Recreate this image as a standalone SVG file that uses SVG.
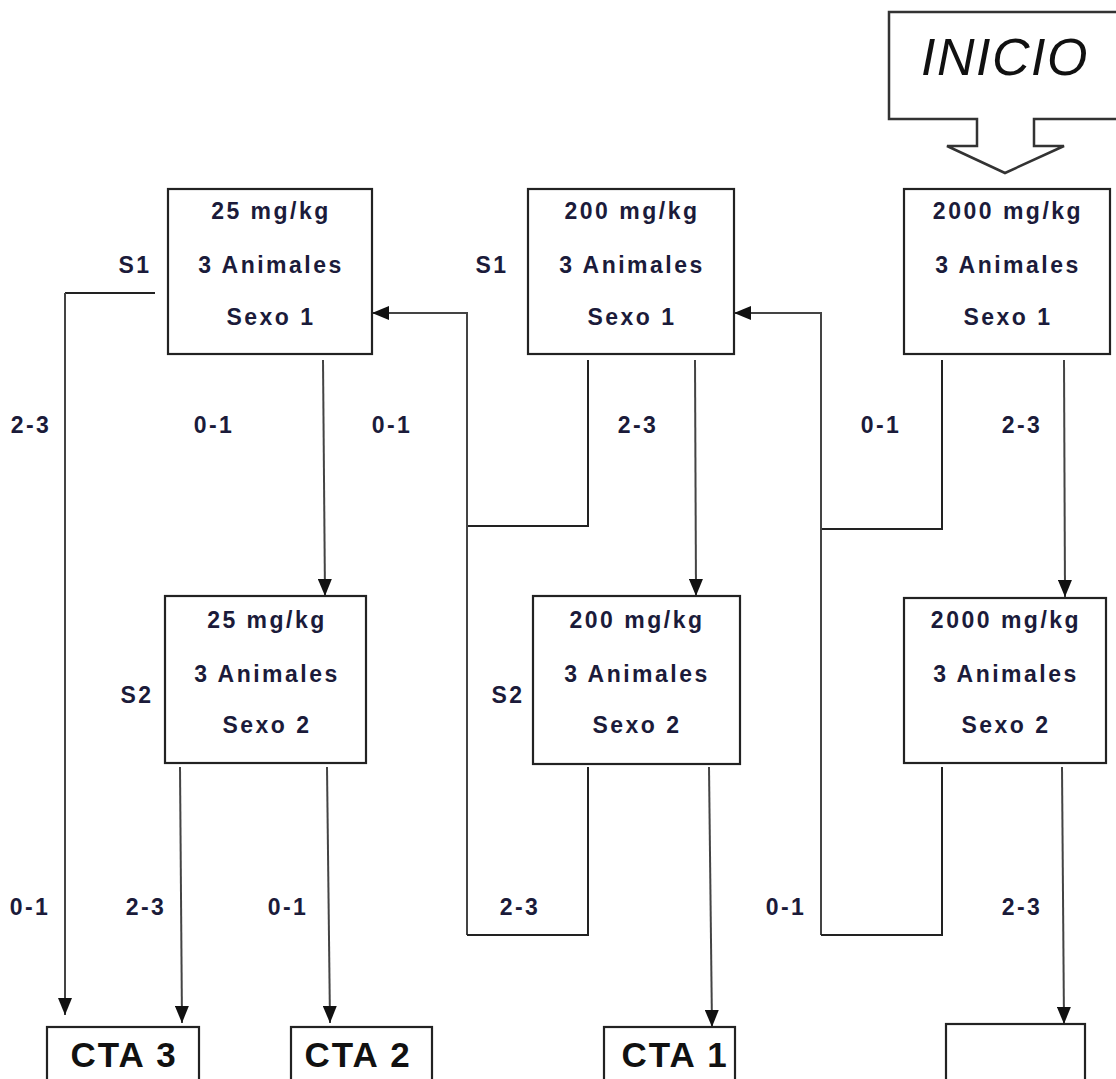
<svg xmlns="http://www.w3.org/2000/svg" width="1116" height="1079" viewBox="0 0 1116 1079">
<style>
.box{fill:#fff;stroke:#222;stroke-width:2.2}
.t{font-family:"Liberation Sans",Arial,sans-serif;font-weight:bold;font-size:23px;letter-spacing:2.5px;fill:#1b1b3a;text-anchor:middle}
.cta{font-family:"Liberation Sans",Arial,sans-serif;font-weight:bold;font-size:35px;letter-spacing:2px;fill:#111;text-anchor:middle}
.ln{fill:none;stroke:#222;stroke-width:2}
.ar{fill:none;stroke:#444;stroke-width:2;marker-end:url(#ah)}
</style>
<defs>
<marker id="ah" markerUnits="userSpaceOnUse" viewBox="0 0 17 14" refX="17" refY="7" markerWidth="17" markerHeight="14" orient="auto">
<path d="M0,0 L17,7 L0,14 z" fill="#111"/>
</marker>
</defs>
<rect width="1116" height="1079" fill="#fff"/>

<g id="inicio">
<path d="M1130,12 L889,12 L889,119 L977,119 L977,146 L947,146 L1005,173 L1064,146 L1034,146 L1034,119 L1130,119" fill="#fff" stroke="#333" stroke-width="2.5"/>
<text x="1005" y="75" font-family="'Liberation Sans',Arial,sans-serif" font-style="italic" font-size="52" letter-spacing="1.5" fill="#111" text-anchor="middle">INICIO</text>
</g>

<g id="connectors">
<path class="ln" d="M155,293 L65,293"/>
<path class="ar" d="M65,293 L65,1015"/>
<path class="ar" d="M323,360 L325,596"/>
<path class="ln" d="M588,360 L588,526 L467,526"/>
<path class="ar" d="M467,935 L467,313 L372,313"/>
<path class="ln" d="M588,767 L588,935 L467,935"/>
<path class="ar" d="M695,360 L696,596"/>
<path class="ln" d="M942,360 L942,529 L821,529"/>
<path class="ar" d="M821,935 L821,313 L734,313"/>
<path class="ln" d="M942,767 L942,935 L821,935"/>
<path class="ar" d="M1064,360 L1065,597"/>
<path class="ar" d="M180,767 L182,1023"/>
<path class="ar" d="M327,767 L330,1023"/>
<path class="ar" d="M709,767 L712,1027"/>
<path class="ar" d="M1062,767 L1064,1024"/>
</g>

<g id="labels">
<text class="t" x="31" y="433">2-3</text>
<text class="t" x="214" y="433">0-1</text>
<text class="t" x="392" y="433">0-1</text>
<text class="t" x="638" y="433">2-3</text>
<text class="t" x="881" y="433">0-1</text>
<text class="t" x="1022" y="433">2-3</text>
<text class="t" x="30" y="915">0-1</text>
<text class="t" x="146" y="915">2-3</text>
<text class="t" x="288" y="915">0-1</text>
<text class="t" x="520" y="915">2-3</text>
<text class="t" x="786" y="915">0-1</text>
<text class="t" x="1022" y="915">2-3</text>
<text class="t" x="135" y="273">S1</text>
<text class="t" x="492" y="273">S1</text>
<text class="t" x="137" y="703">S2</text>
<text class="t" x="508" y="703">S2</text>
</g>

<g id="n25s1">
<rect class="box" x="168" y="189" width="204" height="165"/>
<text class="t" x="271" y="219">25 mg/kg</text>
<text class="t" x="271" y="273">3 Animales</text>
<text class="t" x="271" y="325">Sexo 1</text>
</g>
<g id="n200s1">
<rect class="box" x="528" y="189" width="206" height="165"/>
<text class="t" x="632" y="219">200 mg/kg</text>
<text class="t" x="632" y="273">3 Animales</text>
<text class="t" x="632" y="325">Sexo 1</text>
</g>
<g id="n2000s1">
<rect class="box" x="904" y="189" width="206" height="165"/>
<text class="t" x="1008" y="219">2000 mg/kg</text>
<text class="t" x="1008" y="273">3 Animales</text>
<text class="t" x="1008" y="325">Sexo 1</text>
</g>
<g id="n25s2">
<rect class="box" x="165" y="596" width="201" height="167"/>
<text class="t" x="267" y="628">25 mg/kg</text>
<text class="t" x="267" y="682">3 Animales</text>
<text class="t" x="267" y="733">Sexo 2</text>
</g>
<g id="n200s2">
<rect class="box" x="533" y="596" width="207" height="168"/>
<text class="t" x="637" y="628">200 mg/kg</text>
<text class="t" x="637" y="682">3 Animales</text>
<text class="t" x="637" y="733">Sexo 2</text>
</g>
<g id="n2000s2">
<rect class="box" x="904" y="598" width="202" height="165"/>
<text class="t" x="1006" y="628">2000 mg/kg</text>
<text class="t" x="1006" y="682">3 Animales</text>
<text class="t" x="1006" y="733">Sexo 2</text>
</g>

<g id="cta3">
<rect class="box" x="47" y="1027" width="152" height="70"/>
<text class="cta" x="124" y="1067">CTA 3</text>
</g>
<g id="cta2">
<rect class="box" x="291" y="1027" width="141" height="70"/>
<text class="cta" x="358" y="1067">CTA 2</text>
</g>
<g id="cta1">
<rect class="box" x="604" y="1027" width="131" height="70"/>
<text class="cta" x="675" y="1067">CTA 1</text>
</g>
<g id="empty">
<rect class="box" x="946" y="1024" width="139" height="70"/>
</g>
</svg>
